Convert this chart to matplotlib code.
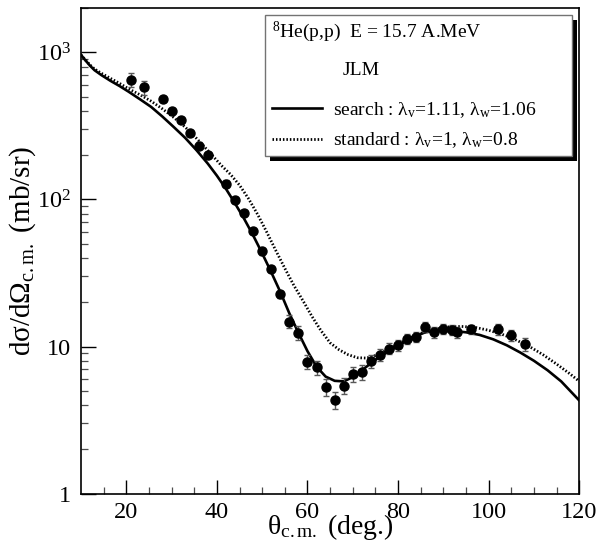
import matplotlib
matplotlib.use("Agg")
import matplotlib.pyplot as plt
from matplotlib.patches import Rectangle
import numpy as np

# data points: 8He(p,p) at 15.7 A.MeV
theta_exp = [21, 24, 28, 30, 32, 34, 36, 38, 42, 44, 46, 48, 50, 52, 54, 56, 58,
             60, 62, 64, 66, 68, 70, 72, 74, 76, 78, 80, 82, 84, 86, 88, 90, 92,
             93, 96, 102, 105, 108]
sigma_exp = [652, 578, 482, 399, 348, 283, 232, 200, 128, 99.5, 80.8, 61.2, 44.3,
             33.6, 22.7, 14.8, 12.4, 7.9, 7.24, 5.32, 4.34, 5.43, 6.52, 6.70, 8.0,
             8.79, 9.69, 10.2, 11.3, 11.7, 13.6, 12.5, 13.2, 13.0, 12.5, 13.1, 13.1,
             11.9, 10.4]
err_exp = [75, 65, 25, 20, 18, 14, 12, 10, 7, 5, 4, 3, 2.2, 1.7, 1.2, 1.5, 1.3,
           0.9, 0.8, 0.7, 0.55, 0.65, 0.75, 0.75, 0.8, 0.8, 0.85, 0.85, 0.9, 0.95,
           1.0, 1.0, 1.05, 1.05, 1.0, 1.0, 1.05, 1.0, 1.0]

# JLM search
theta_search = [10, 11, 12, 13, 14.5, 16.5, 18.5, 20.5, 23, 25.5, 28, 30.5, 33, 35.5,
                38, 40, 42, 44, 46, 48, 50, 52, 54, 56, 58, 60, 62, 64, 66, 68, 70,
                72, 74, 76, 78, 80, 83, 86, 89, 92, 95, 98, 101, 104, 107, 110, 113,
                116, 120]
sigma_search = [960, 880, 810, 755, 700, 640, 590, 540, 480, 425, 365, 310, 262, 216,
                175, 145, 118, 94, 74, 57, 43, 32, 23.5, 16.8, 12.4, 9.3, 7.3, 6.25,
                5.85, 5.8, 6.2, 6.9, 7.7, 8.55, 9.3, 10.1, 11.5, 12.5, 12.9, 12.8,
                12.5, 12.0, 11.2, 10.2, 9.1, 8.0, 6.9, 5.8, 4.3]

# JLM standard
theta_std = [10, 11, 12, 13, 14.5, 16.5, 18.5, 20.5, 23, 25.5, 28, 30.5, 33, 35.5, 38,
             41, 43, 45, 47, 49, 51, 53, 55, 57, 59, 61, 63, 65, 67, 69, 71, 73, 75,
             77, 79, 82, 85, 88, 91, 94, 97, 100, 103, 106, 109, 112, 115, 118, 120]
sigma_std = [960, 885, 820, 770, 720, 665, 615, 565, 515, 465, 412, 360, 310, 260, 215,
             170, 148, 125, 101, 79, 60, 45, 34, 26, 20.5, 16, 12.8, 10.6, 9.5, 8.8,
             8.4, 8.35, 8.7, 9.3, 10.0, 11.2, 12.3, 13.1, 13.6, 13.7, 13.5, 12.9,
             12.1, 11.1, 10.0, 8.8, 7.6, 6.5, 5.8]

ytick_vals = [1, 10, 100, 1000]
ytick_labels = ['1', '10', '$10^{2}$', '$10^{3}$']
xtick_vals = [20, 40, 60, 80, 100, 120]

plt.rcParams['font.family'] = 'Liberation Serif'
plt.rcParams['mathtext.fontset'] = 'custom'
plt.rcParams['mathtext.rm'] = 'Liberation Serif'
plt.rcParams['mathtext.it'] = 'Liberation Serif:italic'
plt.rcParams['mathtext.bf'] = 'Liberation Serif:bold'

fig = plt.figure(figsize=(6.02, 5.47), dpi=100)
ax = fig.add_axes([81/602, 1-493.7/547, 498.3/602, 485.7/547])

ax.plot(theta_search, sigma_search, color='black', lw=1.9, zorder=3)
ax.plot(theta_std, sigma_std, color='black', lw=2.0, ls=(0, (0.55, 0.7)), zorder=3)
ax.errorbar(theta_exp, sigma_exp, yerr=err_exp, fmt='o', color='black', ms=6.5,
            ecolor='0.35', elinewidth=1, capsize=2.5, capthick=1, zorder=4)

ax.set_yscale('log')
ax.set_xlim(10, 120)
ax.set_ylim(1, 2000)
ax.set_yticks(ytick_vals)
ax.set_yticklabels(ytick_labels)
ax.set_xticks(xtick_vals)
ax.set_xticks(np.arange(15, 120, 5), minor=True)

ax.tick_params(which='both', direction='in', top=False, right=False)
ax.tick_params(which='major', axis='x', length=10, width=1, labelsize=17.5, pad=6)
ax.tick_params(which='major', axis='y', length=11, width=1, labelsize=17.5, pad=7)
ax.tick_params(which='minor', length=5, width=0.9, color='0.3')
ax.tick_params(which='minor', axis='y', labelleft=False)
for s in ax.spines.values():
    s.set_linewidth(1.2)

ax.set_xlabel(r'θ$_{\mathrm{c.m.}}$ (deg.)', fontsize=20, labelpad=-8)
ax.set_ylabel(r'dσ/dΩ$_{\mathrm{c.m.}}$ (mb/sr)', fontsize=21, labelpad=-1)

# legend box with shadow
bx0, bx1, by0, by1 = 0.369, 0.985, 0.6953, 0.9856
ax.add_patch(Rectangle((bx0 + 0.010, by0 - 0.0105), bx1 - bx0, by1 - by0,
                       transform=ax.transAxes, facecolor='black', edgecolor='none',
                       zorder=5, clip_on=False))
ax.add_patch(Rectangle((bx0, by0), bx1 - bx0, by1 - by0, transform=ax.transAxes,
                       facecolor='white', edgecolor='0.45', lw=1, zorder=6,
                       clip_on=False))
ax.text(0.383, 0.951, r'$^{\mathrm{8}}$He(p,p)  E = 15.7 A.MeV', transform=ax.transAxes,
        fontsize=14, va='center', ha='left', zorder=7)
ax.text(0.526, 0.872, 'JLM', transform=ax.transAxes, fontsize=14, va='center',
        ha='left', zorder=7)

h1, = ax.plot([], [], color='black', lw=1.9)
h2, = ax.plot([], [], color='black', lw=2.0, ls=(0, (0.55, 0.7)))
leg = ax.legend([h1, h2],
                [r'search : λ$_{\mathrm{v}}$=1.11, λ$_{\mathrm{w}}$=1.06',
                 r'standard : λ$_{\mathrm{v}}$=1, λ$_{\mathrm{w}}$=0.8'],
                loc='center left', bbox_to_anchor=(0.383, 0.759), frameon=False,
                fontsize=14, handlelength=2.6, handletextpad=0.55, labelspacing=0.55,
                borderpad=0, borderaxespad=0)
leg.set_zorder(8)

fig.savefig('out.png', dpi=100)
